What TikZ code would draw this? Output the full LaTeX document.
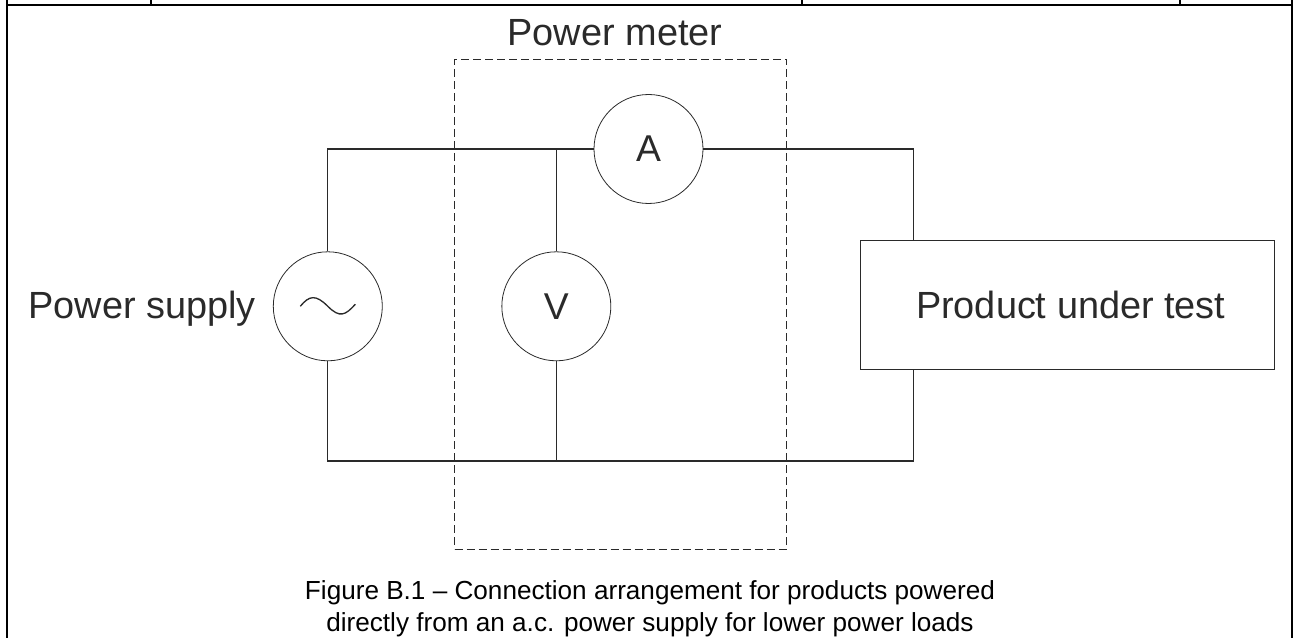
\documentclass[tikz,border=0pt]{standalone}
\usepackage{fontspec}
\setmainfont{Liberation Sans}
\usepackage{tikz}
\usetikzlibrary{positioning, calc}
\definecolor{inkgrey}{HTML}{2A2A2A}
\tikzstyle{meter} = [circle, minimum size=81.75pt, inner sep=0pt, text centered, draw=inkgrey, line width=0.6pt, font=\fontsize{28}{32}\selectfont, text=inkgrey]
\tikzstyle{product} = [rectangle, minimum width=310pt, minimum height=96.75pt, text centered, draw=inkgrey, line width=0.7pt, font=\fontsize{28.4}{32}\selectfont, text=inkgrey]
\tikzstyle{meterbox} = [rectangle, minimum width=249pt, minimum height=367.5pt, draw=inkgrey, dashed, dash pattern=on 6pt off 3pt, line width=0.6pt]
\tikzstyle{bigtext} = [font=\fontsize{28.4}{32}\selectfont, text=inkgrey, inner sep=0pt]
\tikzstyle{captiontext} = [font=\fontsize{19.6}{24}\selectfont, text=black, align=center, inner sep=0pt]
\tikzstyle{wire} = [draw=inkgrey, line width=0.8pt]
\tikzstyle{frame} = [draw=black, line width=1.5pt]

\begin{document}
\begin{tikzpicture}[x=0.75pt, y=-0.75pt, node distance=171.4pt]
\useasboundingbox (0,0) rectangle (1295,638);
\node (box) [meterbox] at (620.5,304) {};
\node (boxlabel) [bigtext] at (615,33) {Power meter};
\node (source) [meter] at (327.8,306.3) {};
\node (volt) [meter, right of=source] {V};
\node (amp) [meter] at (648.5,149) {A};
\node (dut) [product] at (1067.4,304.8) {\hspace*{5pt}Product under test};
\node (supplylabel) [bigtext, left=12.5pt of source, yshift=-1.5pt] {Power supply};
\node (caption) [captiontext] at (650,609) {Figure B.1 -- Connection arrangement for products powered\\directly from an a.c. power supply for lower power loads};
\coordinate (dutin) at (913.5,240);
\coordinate (dutout) at (913.5,369.5);

\draw [wire] (amp.west) -- (source.north |- amp.west) -- (source.north);
\draw [wire] (volt.north) -- (volt.north |- amp.west);
\draw [wire] (amp.east) -| (dutin);
\draw [wire] (source.south) |- (dutout |- 0,461) -- (dutout);
\draw [wire] (volt.south) -- (volt.south |- 0,461);
\draw [wire, line width=1pt] ($(source)+(-27.5,0)$) .. controls +(9,-11) and +(-12,-12) .. (source.center) .. controls +(12,12) and +(-10,11) .. ($(source)+(27.5,-2)$);

% outer table lines
\draw [frame] (7,0) -- (7,638);
\draw [frame] (1292,0) -- (1292,638);
\draw [frame] (7,5) -- (1292,5);
\draw [frame] (151,0) -- (151,5);
\draw [frame] (802,0) -- (802,5);
\draw [frame] (1180,0) -- (1180,5);
\end{tikzpicture}
\end{document}
